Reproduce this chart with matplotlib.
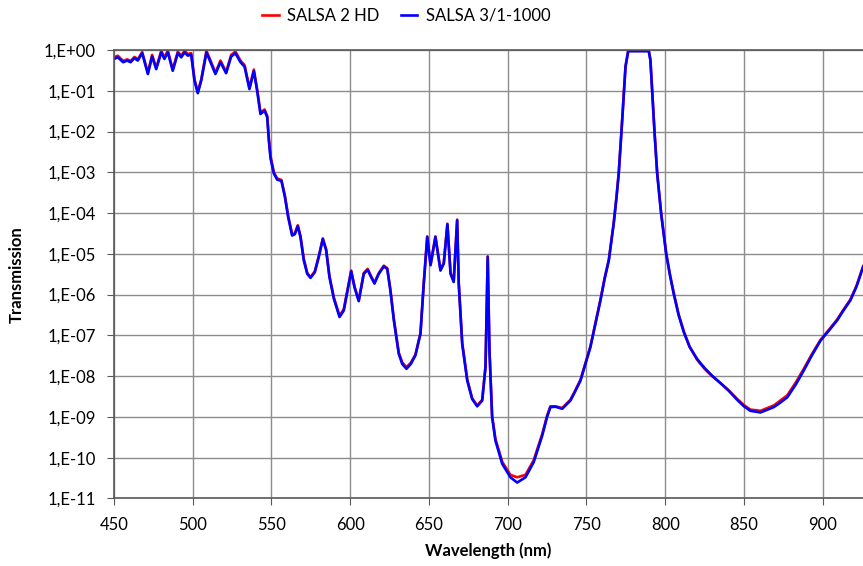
import numpy as np
import matplotlib
matplotlib.use("Agg")
import matplotlib.pyplot as plt
from matplotlib.ticker import FuncFormatter, FixedLocator, NullLocator

# wavelength (nm) and log10(transmission)
WL = [450, 452.4, 455.8, 458.4, 460.5, 463, 465.1, 467.9, 471.5, 474.2,
      476.8, 480, 482, 484.2, 487.3, 490.5, 492.7, 494.8, 496.9, 499,
      501.1, 503.2, 505.4, 508.7, 511.3, 514.4, 517.6, 521.2, 524.4, 527.1,
      530.3, 532.9, 536, 538.8, 540.9, 543, 545.6, 547.3, 548.3, 549.4,
      551.5, 553.6, 556.3, 558.5, 560.6, 563.1, 564.8, 566.7, 568.4, 570.5,
      572.7, 574.8, 577.5, 580, 582.6, 584.7, 586.8, 589.6, 593.2, 595.9,
      598.7, 600.6, 602.7, 605.4, 608.6, 611.1, 613, 615.4, 618, 621.3,
      623.5, 625.5, 627.7, 630.8, 633, 635.7, 638.5, 641.4, 644.6, 646.7,
      648.9, 651, 654.1, 657.3, 659.4, 661.7, 663.7, 665.7, 667.9, 668.9,
      671.1, 674.3, 677.4, 680.6, 683.8, 685.9, 687.3, 688.4, 690.1, 692.2,
      696.5, 701.7, 706, 711.3, 716.5, 721.9, 725, 727.1, 730.3, 734.6,
      739.8, 742.5, 746.2, 752.5, 758.9, 761.5, 764.2, 767.3, 769, 770.5,
      772.7, 774.8, 776.5, 789.6, 790.6, 791.7, 793.2, 794.9, 797.4, 800.6,
      803, 805.4, 808.5, 811.8, 815.5, 820.3, 825, 829.8, 835.1, 840.4,
      845.7, 850, 854.1, 860.5, 868.9, 872, 877.5, 883, 888, 893,
      898.6, 904, 909.2, 913, 917.6, 921.5, 925.7]

LOG_BLUE = [-0.22, -0.18, -0.30, -0.26, -0.30, -0.20, -0.26, -0.08, -0.59, -0.16,
            -0.47, -0.06, -0.22, -0.06, -0.51, -0.08, -0.18, -0.06, -0.14, -0.11,
            -0.75, -1.06, -0.75, -0.06, -0.30, -0.59, -0.30, -0.57, -0.16, -0.08,
            -0.30, -0.41, -0.96, -0.52, -1.00, -1.57, -1.49, -1.65, -2.21, -2.66,
            -3.03, -3.18, -3.21, -3.60, -4.10, -4.55, -4.52, -4.32, -4.59, -5.16,
            -5.49, -5.59, -5.45, -5.08, -4.64, -4.91, -5.57, -6.10, -6.55, -6.39,
            -5.82, -5.43, -5.82, -6.16, -5.49, -5.39, -5.55, -5.73, -5.50, -5.31,
            -5.37, -5.90, -6.63, -7.45, -7.70, -7.82, -7.70, -7.49, -6.96, -5.73,
            -4.59, -5.28, -4.59, -5.41, -5.24, -4.28, -5.49, -5.69, -4.18, -5.73,
            -7.21, -8.11, -8.56, -8.74, -8.60, -7.78, -5.08, -7.37, -9.01, -9.58,
            -10.15, -10.48, -10.61, -10.48, -10.11, -9.46, -9.00, -8.76, -8.75, -8.80,
            -8.60, -8.40, -8.11, -7.29, -6.14, -5.62, -5.16, -4.26, -3.65, -3.03,
            -1.72, -0.41, -0.03, -0.03, -0.25, -0.98, -2.01, -3.03, -4.01, -5.00,
            -5.52, -5.98, -6.50, -6.92, -7.28, -7.58, -7.80, -7.99, -8.17, -8.36,
            -8.58, -8.74, -8.85, -8.89, -8.76, -8.68, -8.52, -8.20, -7.86, -7.50,
            -7.13, -6.88, -6.63, -6.40, -6.14, -5.80, -5.32]

LOG_RED = [-0.18, -0.14, -0.27, -0.23, -0.27, -0.17, -0.23, -0.05, -0.56, -0.12,
           -0.44, -0.02, -0.18, -0.02, -0.48, -0.04, -0.14, -0.02, -0.10, -0.08,
           -0.72, -1.03, -0.72, -0.02, -0.26, -0.56, -0.26, -0.54, -0.12, -0.04,
           -0.26, -0.37, -0.93, -0.48, -0.97, -1.54, -1.46, -1.62, -2.16, -2.60,
           -3.00, -3.15, -3.19, -3.57, -4.07, -4.52, -4.50, -4.30, -4.56, -5.12,
           -5.47, -5.57, -5.43, -5.06, -4.62, -4.89, -5.54, -6.07, -6.52, -6.36,
           -5.80, -5.41, -5.80, -6.14, -5.47, -5.37, -5.53, -5.71, -5.48, -5.29,
           -5.35, -5.88, -6.60, -7.42, -7.66, -7.78, -7.67, -7.47, -6.94, -5.71,
           -4.57, -5.26, -4.57, -5.39, -5.22, -4.26, -5.47, -5.67, -4.16, -5.71,
           -7.18, -8.08, -8.54, -8.72, -8.58, -7.76, -5.06, -7.34, -8.97, -9.54,
           -10.10, -10.42, -10.48, -10.42, -10.06, -9.42, -8.97, -8.74, -8.74, -8.78,
           -8.58, -8.38, -8.09, -7.27, -6.12, -5.60, -5.14, -4.24, -3.63, -3.01,
           -1.70, -0.40, -0.02, -0.02, -0.24, -0.96, -1.99, -3.01, -3.99, -4.97,
           -5.50, -5.95, -6.48, -6.90, -7.28, -7.60, -7.82, -8.00, -8.17, -8.35,
           -8.56, -8.71, -8.82, -8.85, -8.72, -8.63, -8.47, -8.15, -7.82, -7.47,
           -7.11, -6.86, -6.61, -6.38, -6.12, -5.78, -5.30]

SERIES = ["SALSA 2 HD", "SALSA 3/1-1000"]
COLORS = ["#ff0000", "#0000ff"]

plt.rcParams["font.family"] = ["Lato", "DejaVu Sans"]

fig = plt.figure(figsize=(8.63, 5.66), dpi=100)
ax = fig.add_axes([0.1321, 0.1193, 0.8679, 0.7924])

wl = np.array(WL)
for name, logs, c in zip(SERIES, [LOG_RED, LOG_BLUE], COLORS):
    ax.plot(wl, 10 ** np.array(logs), color=c, lw=1.9, label=name,
            solid_joinstyle="round")

ax.set_yscale("log")
ax.set_xlim(450, 925.6)
ax.set_ylim(1e-11, 1e0)
ax.yaxis.set_major_locator(FixedLocator([10.0 ** e for e in range(-11, 1)]))
ax.yaxis.set_minor_locator(NullLocator())
ax.yaxis.set_major_formatter(FuncFormatter(
    lambda v, p: "1,E%+03d" % int(round(np.log10(v)))))
ax.set_xticks(np.arange(450, 901, 50))

ax.grid(True, color="#8c8c8c", lw=1.0)
ax.set_axisbelow(True)
ax.spines["right"].set_visible(False)
for s in ("left", "bottom", "top"):
    ax.spines[s].set_color("#595959")
    ax.spines[s].set_linewidth(1.2)
ax.tick_params(labelsize=12, colors="#000000", length=5, color="#595959",
               pad=8)

ax.set_xlabel("Wavelength (nm)", fontsize=12, fontweight="bold")
ax.set_ylabel("Transmission", fontsize=12, fontweight="bold")
ax.xaxis.set_label_coords(0.5, -0.097)
ax.yaxis.set_label_coords(-0.119, 0.5)

ax.legend(loc="center", bbox_to_anchor=(0.39, 1.076), ncol=2,
          frameon=False, fontsize=12, handlelength=1.0, handletextpad=0.5,
          columnspacing=1.3)

fig.savefig("out.png", dpi=100)
